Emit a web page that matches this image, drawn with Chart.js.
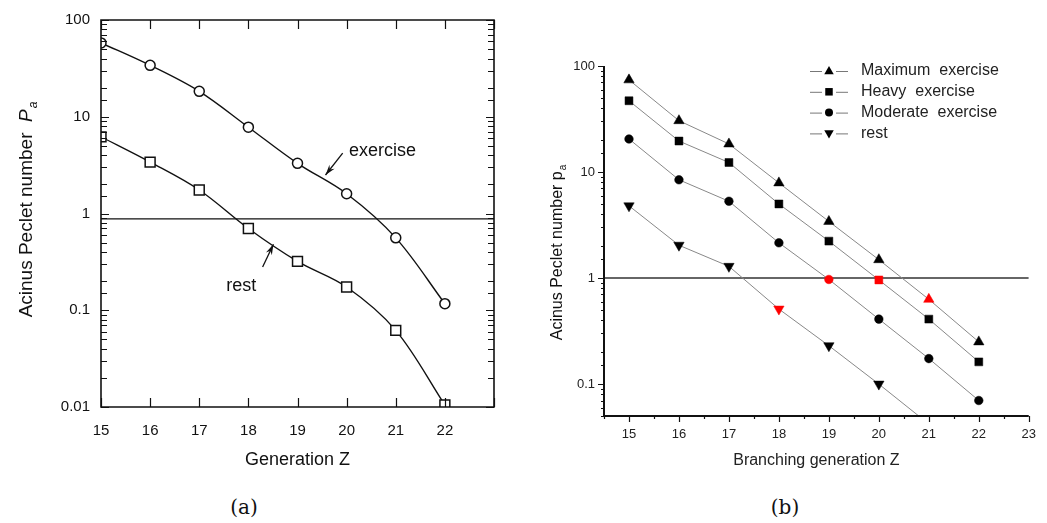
<!DOCTYPE html>
<html>
<head>
<meta charset="utf-8">
<script src="https://cdn.jsdelivr.net/npm/chart.js@4.4.1/dist/chart.umd.min.js"></script>
<style>
  body { margin: 0; background: #fff; width: 1047px; height: 523px; position: relative; overflow: hidden; }
  #chartA { position: absolute; left: 0; top: 0; }
  #chartB { position: absolute; left: 530px; top: 40px; }
  .cap { position: absolute; top: 495px; width: 60px; text-align: center; font-family: "DejaVu Serif", "Liberation Serif", serif; font-size: 20px; color: #111; }
</style>
</head>
<body>
<canvas id="chartA" width="520" height="480"></canvas>
<canvas id="chartB" width="517" height="440"></canvas>
<div class="cap" style="left:214px">(a)</div>
<div class="cap" style="left:755px">(b)</div>
<script>
'use strict';

// generations shared by both panels
const genZ = [15, 16, 17, 18, 19, 20, 21, 22];

// panel (a)
const exerciseA = [58, 34, 18.3, 7.8, 3.3, 1.6, 0.56, 0.117];
const restA = [6.2, 3.4, 1.75, 0.70, 0.32, 0.174, 0.062, 0.0105];
const limitA = 0.88;
const xTicksA = [15, 16, 17, 18, 19, 20, 21, 22];
const xTickLabelsA = ['15', '16', '17', '18', '19', '20', '21', '22'];
const yTicksA = [0.01, 0.1, 1, 10, 100];
const yTickLabelsA = ['0.01', '0.1', '1', '10', '100'];

// panel (b)
const seriesNamesB = ['Maximum  exercise', 'Heavy  exercise', 'Moderate  exercise', 'rest'];
const maxB = [74, 30.5, 18.4, 7.9, 3.42, 1.49, 0.63, 0.25];
const heavyB = [47, 19.6, 12.3, 5.0, 2.23, 0.96, 0.41, 0.162];
const moderateB = [20.5, 8.45, 5.3, 2.15, 0.97, 0.41, 0.174, 0.07];
const restB = [4.8, 2.04, 1.29, 0.51, 0.23, 0.10, 0.042];
const redGenB = [21, 20, 19, 18];
const limitB = 1;
const xTicksB = [15, 16, 17, 18, 19, 20, 21, 22, 23];
const xTickLabelsB = ['15', '16', '17', '18', '19', '20', '21', '22', '23'];
const yTicksB = [0.1, 1, 10, 100];
const yTickLabelsB = ['0.1', '1', '10', '100'];

const SANS = '"Liberation Sans", Arial, sans-serif';

function toPts(ys) {
  return ys.map((y, i) => ({ x: genZ[i], y: y }));
}

function pickLabel(v, vals, labels) {
  for (let i = 0; i < vals.length; i++) {
    if (Math.abs(v - vals[i]) < vals[i] * 1e-6) return labels[i];
  }
  return '';
}

function drawYTitle(ctx, t) {
  ctx.save();
  ctx.translate(t.x, t.y);
  ctx.rotate(-Math.PI / 2);
  ctx.fillStyle = '#111';
  ctx.textBaseline = 'alphabetic';
  const f = t.size + 'px ' + SANS;
  const fSym = (t.italic ? 'italic ' : '') + f;
  const fSub = (t.italic ? 'italic ' : '') + Math.round(t.size * 0.62) + 'px ' + SANS;
  ctx.font = f; const w1 = ctx.measureText(t.text).width;
  ctx.font = fSym; const w2 = ctx.measureText(t.sym).width;
  ctx.font = fSub; const w3 = ctx.measureText(t.sub).width;
  let x = -(w1 + w2 + w3) / 2;
  const base = t.size * 0.36;
  ctx.font = f; ctx.fillText(t.text, x, base); x += w1;
  ctx.font = fSym; ctx.fillText(t.sym, x, base); x += w2 + 1;
  ctx.font = fSub; ctx.fillText(t.sub, x, base + t.size * 0.28);
  ctx.restore();
}

// axis lines, tick marks and y title
const axesMarks = {
  id: 'axesMarks',
  afterDraw(chart, args, o) {
    const { ctx, chartArea: a, scales: { x, y } } = chart;
    const dir = o.inside ? -1 : 1;
    ctx.save();
    ctx.strokeStyle = o.color;
    ctx.lineWidth = o.tickWidth;
    ctx.beginPath();
    x.ticks.forEach(t => {
      const px = Math.round(x.getPixelForValue(t.value)) + 0.5;
      const len = Number.isInteger(t.value) ? o.xMajor : o.xMinor;
      ctx.moveTo(px, a.bottom); ctx.lineTo(px, a.bottom + dir * len);
      if (o.box) { ctx.moveTo(px, a.top); ctx.lineTo(px, a.top - dir * len); }
    });
    y.ticks.forEach(t => {
      const py = Math.round(y.getPixelForValue(t.value)) + 0.5;
      const lg = Math.log10(t.value);
      const len = Math.abs(lg - Math.round(lg)) < 1e-6 ? o.yMajor : o.yMinor;
      ctx.moveTo(a.left, py); ctx.lineTo(a.left - dir * len, py);
      if (o.box) { ctx.moveTo(a.right, py); ctx.lineTo(a.right + dir * len, py); }
    });
    ctx.stroke();
    ctx.lineWidth = o.axisWidth;
    ctx.beginPath();
    if (o.box) {
      ctx.rect(a.left, a.top, a.right - a.left, a.bottom - a.top);
    } else {
      ctx.moveTo(a.left, a.top); ctx.lineTo(a.left, a.bottom); ctx.lineTo(a.right, a.bottom);
    }
    ctx.stroke();
    drawYTitle(ctx, o.title);
    ctx.restore();
  }
};

// "exercise" / "rest" arrows for panel (a)
const notesPlugin = {
  id: 'notes',
  afterDatasetsDraw(chart, args, o) {
    if (!o.items) return;
    const { ctx, scales: { x, y } } = chart;
    ctx.save();
    ctx.fillStyle = '#111';
    ctx.strokeStyle = '#111';
    ctx.lineWidth = 1.3;
    ctx.font = o.size + 'px ' + SANS;
    ctx.textBaseline = 'middle';
    o.items.forEach(n => {
      ctx.fillText(n.text, x.getPixelForValue(n.at[0]), y.getPixelForValue(n.at[1]));
      const x0 = x.getPixelForValue(n.tail[0]), y0 = y.getPixelForValue(n.tail[1]);
      const x1 = x.getPixelForValue(n.tip[0]), y1 = y.getPixelForValue(n.tip[1]);
      const ang = Math.atan2(y1 - y0, x1 - x0);
      ctx.beginPath(); ctx.moveTo(x0, y0); ctx.lineTo(x1, y1); ctx.stroke();
      ctx.beginPath();
      ctx.moveTo(x1, y1);
      ctx.lineTo(x1 - 11 * Math.cos(ang - 0.3), y1 - 11 * Math.sin(ang - 0.3));
      ctx.lineTo(x1 - 7 * Math.cos(ang), y1 - 7 * Math.sin(ang));
      ctx.lineTo(x1 - 11 * Math.cos(ang + 0.3), y1 - 11 * Math.sin(ang + 0.3));
      ctx.closePath(); ctx.fill();
    });
    ctx.restore();
  }
};

function drawMarker(ctx, shape, cx, cy, r) {
  ctx.beginPath();
  if (shape === 'circle') {
    ctx.arc(cx, cy, r * 0.8, 0, Math.PI * 2);
  } else if (shape === 'rect') {
    ctx.rect(cx - r * 0.75, cy - r * 0.75, r * 1.5, r * 1.5);
  } else {
    const s = shape === 'down' ? -1 : 1;
    ctx.moveTo(cx, cy - s * r);
    ctx.lineTo(cx + r * 0.95, cy + s * r * 0.65);
    ctx.lineTo(cx - r * 0.95, cy + s * r * 0.65);
    ctx.closePath();
  }
  ctx.fill();
}

const legendB = {
  id: 'legendB',
  afterDraw(chart, args, o) {
    if (!o.show) return;
    const ctx = chart.ctx;
    ctx.save();
    const sets = chart.data.datasets.filter(d => d.label);
    sets.forEach((d, i) => {
      const yy = o.top + i * o.rowHeight;
      const cx = o.left + o.lineLength / 2;
      ctx.strokeStyle = '#777';
      ctx.lineWidth = 1;
      ctx.beginPath();
      ctx.moveTo(o.left, yy + 0.5); ctx.lineTo(cx - o.marker - 2, yy + 0.5);
      ctx.moveTo(cx + o.marker + 2, yy + 0.5); ctx.lineTo(o.left + o.lineLength, yy + 0.5);
      ctx.stroke();
      ctx.fillStyle = '#000';
      const shape = d.pointRotation === 180 ? 'down' : d.pointStyle;
      drawMarker(ctx, shape, cx, yy, o.marker);
      ctx.fillStyle = '#222';
      ctx.font = o.size + 'px ' + SANS;
      ctx.textBaseline = 'middle';
      ctx.fillText(d.label, o.left + o.textOffset, yy);
    });
    ctx.restore();
  }
};

// ---------- panel (a)
new Chart(document.getElementById('chartA'), {
  type: 'scatter',
  data: {
    datasets: [
      {
        label: '', data: toPts(exerciseA), showLine: true, borderColor: '#111', borderWidth: 1.4,
        tension: 0.35, pointStyle: 'circle', pointRadius: 5,
        pointBackgroundColor: '#fff', pointBorderColor: '#111', pointBorderWidth: 1.5, order: 1
      },
      {
        label: '', data: toPts(restA), showLine: true, borderColor: '#111', borderWidth: 1.4,
        tension: 0.35, pointStyle: 'rect', pointRadius: 7,
        pointBackgroundColor: '#fff', pointBorderColor: '#111', pointBorderWidth: 1.5, order: 1
      },
      {
        label: '', data: [{ x: 15, y: limitA }, { x: 23, y: limitA }], showLine: true,
        borderColor: '#111', borderWidth: 1.3, pointRadius: 0, order: 5
      }
    ]
  },
  options: {
    responsive: false,
    animation: false,
    events: [],
    layout: { padding: { left: 0, top: 15, right: 26, bottom: 0 } },
    plugins: {
      legend: { display: false },
      tooltip: { enabled: false },
      axesMarks: {
        box: true, inside: true, color: '#111', tickWidth: 1.2, axisWidth: 1.6,
        xMajor: 9, xMinor: 5, yMajor: 8, yMinor: 6,
        title: { x: 25, y: 210, size: 19, text: 'Acinus Peclet number  ', sym: 'P', sub: 'a', italic: true }
      },
      notes: {
        size: 18,
        items: [
          { text: 'exercise', at: [20.05, 4.4], tail: [19.92, 4.2], tip: [19.57, 2.5] },
          { text: 'rest', at: [17.55, 0.178], tail: [18.29, 0.28], tip: [18.51, 0.48] }
        ]
      }
    },
    scales: {
      x: {
        type: 'linear', min: 15, max: 23,
        grid: { display: false, drawTicks: false }, border: { display: false },
        ticks: {
          stepSize: 1, autoSkip: false, maxRotation: 0, padding: 15, color: '#111',
          font: { family: SANS, size: 15 },
          callback: v => pickLabel(v, xTicksA, xTickLabelsA)
        },
        title: { display: true, text: 'Generation Z', color: '#111', font: { family: SANS, size: 18 }, padding: { bottom: 9 } },
        afterFit: s => { s.height = 73; }
      },
      y: {
        type: 'logarithmic', min: 0.01, max: 100,
        grid: { display: false, drawTicks: false }, border: { display: false },
        ticks: {
          autoSkip: false, padding: 11, color: '#111',
          font: { family: SANS, size: 15 },
          callback: v => pickLabel(v, yTicksA, yTickLabelsA)
        },
        afterFit: s => { s.width = 101; }
      }
    }
  },
  plugins: [axesMarks, notesPlugin]
});

// ---------- panel (b)
function seriesB(i, values, style, radius, rotation) {
  const red = redGenB[i];
  return {
    label: seriesNamesB[i], data: toPts(values), showLine: true,
    borderColor: '#888', borderWidth: 1, pointStyle: style, pointRadius: radius, pointRotation: rotation,
    pointBackgroundColor: values.map((v, k) => genZ[k] === red ? '#ff0000' : '#000'),
    pointBorderColor: values.map((v, k) => genZ[k] === red ? '#ff0000' : '#000'),
    pointBorderWidth: 0.5, clip: 0, order: 1
  };
}

new Chart(document.getElementById('chartB'), {
  type: 'scatter',
  data: {
    datasets: [
      seriesB(0, maxB, 'triangle', 6, 0),
      seriesB(1, heavyB, 'rect', 5.6, 0),
      seriesB(2, moderateB, 'circle', 4.3, 0),
      seriesB(3, restB, 'triangle', 6, 180),
      {
        label: '', data: [{ x: 14.5, y: limitB }, { x: 23, y: limitB }], showLine: true,
        borderColor: '#333', borderWidth: 1.5, pointRadius: 0, order: 5
      }
    ]
  },
  options: {
    responsive: false,
    animation: false,
    events: [],
    layout: { padding: { left: 0, top: 26, right: 11, bottom: 0 } },
    plugins: {
      legend: { display: false },
      tooltip: { enabled: false },
      axesMarks: {
        box: false, inside: false, color: '#111', tickWidth: 1.2, axisWidth: 2,
        xMajor: 6, xMinor: 3, yMajor: 6, yMinor: 3,
        title: { x: 26, y: 213, size: 16, text: 'Acinus Peclet number ', sym: 'p', sub: 'a', italic: false }
      },
      legendB: { show: true, left: 280, top: 31, rowHeight: 20.8, lineLength: 38, marker: 5, textOffset: 51, size: 16 }
    },
    scales: {
      x: {
        type: 'linear', min: 14.5, max: 23,
        grid: { display: false, drawTicks: false }, border: { display: false },
        ticks: {
          stepSize: 0.5, autoSkip: false, maxRotation: 0, padding: 11, color: '#222',
          font: { family: SANS, size: 13 },
          callback: v => pickLabel(v, xTicksB, xTickLabelsB)
        },
        title: { display: true, text: 'Branching generation Z', color: '#222', font: { family: SANS, size: 16 }, padding: { bottom: 10 } },
        afterFit: s => { s.height = 64; }
      },
      y: {
        type: 'logarithmic', min: 0.05, max: 100,
        grid: { display: false, drawTicks: false }, border: { display: false },
        ticks: {
          autoSkip: false, padding: 9, color: '#222',
          font: { family: SANS, size: 13 },
          callback: v => pickLabel(v, yTicksB, yTickLabelsB)
        },
        afterFit: s => { s.width = 74; }
      }
    }
  },
  plugins: [axesMarks, legendB]
});
</script>
</body>
</html>
